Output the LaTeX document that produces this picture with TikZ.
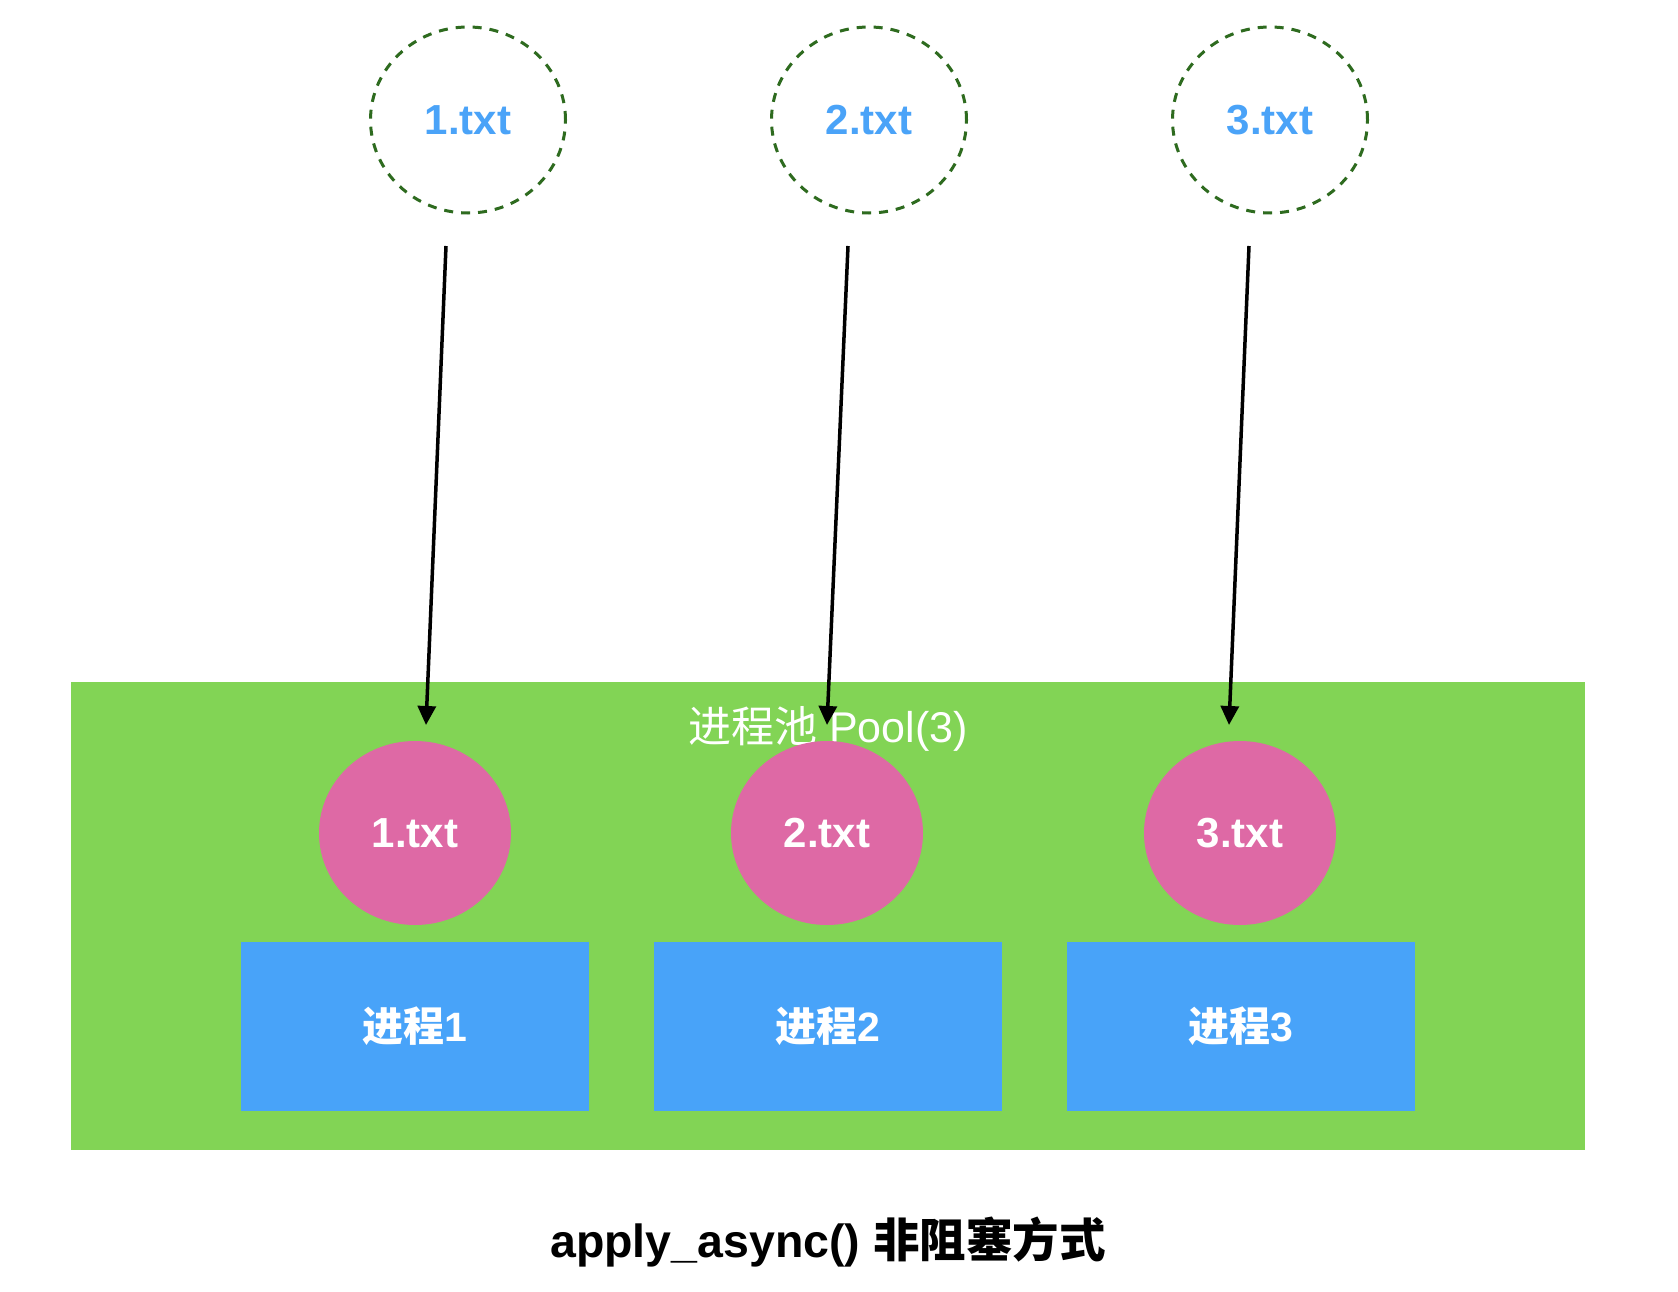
\documentclass[tikz,border=0pt]{standalone}
\usepackage{fontspec}
\setmainfont{Liberation Sans}
\newfontfamily\cjk{Noto Sans CJK SC}
\usetikzlibrary{shapes.geometric,arrows.meta}
\definecolor{poolgreen}{RGB}{130,212,85}
\definecolor{filepink}{RGB}{222,105,165}
\definecolor{procblue}{RGB}{72,163,249}
\definecolor{dashgreen}{RGB}{46,107,31}
\definecolor{labelblue}{RGB}{74,163,248}
\tikzset{
  srcfile/.style={ellipse, draw=dashgreen, line width=3pt, dash pattern=on 9pt off 8pt,
    minimum width=195pt, minimum height=186pt, inner sep=0pt, text=labelblue,
    font=\bfseries\fontsize{42}{50}\selectfont},
  taskfile/.style={ellipse, fill=filepink, minimum width=192pt, minimum height=184pt,
    inner sep=0pt, text=white, font=\bfseries\fontsize{42}{50}\selectfont},
  procbox/.style={rectangle, fill=procblue, minimum width=348pt, minimum height=169pt,
    inner sep=0pt, text=white, font=\bfseries\fontsize{41}{48}\selectfont},
  feed/.style={draw=black, line width=3.5pt, -{Triangle[length=19pt,width=18pt]}},
}
\begin{document}
\begin{tikzpicture}[x=1pt,y=-1pt]
\useasboundingbox (0,0) rectangle (1678,1292);
\fill[white] (0,0) rectangle (1678,1292);
% pool
\node[rectangle, fill=poolgreen, minimum width=1514pt, minimum height=468pt, inner sep=0pt, anchor=north west] (pool) at (71,682) {};
\node[text=white, font=\fontsize{43}{48}\selectfont, inner sep=0pt] (poollabel) at (828,729) {{\cjk 进程池} Pool(3)};
% source files
\node[srcfile] (s1) at (468,120) {1.txt};
\node[srcfile] (s2) at (869,120) {2.txt};
\node[srcfile] (s3) at (1270,120) {3.txt};
% task files
\node[taskfile] (t1) at (415,833) {1.txt};
\node[taskfile] (t2) at (827,833) {2.txt};
\node[taskfile] (t3) at (1240,833) {3.txt};
% processes
\node[procbox] (p1) at (415,1026) {{\cjk\bfseries 进程}1};
\node[procbox] (p2) at (828,1026) {{\cjk\bfseries 进程}2};
\node[procbox] (p3) at (1241,1026) {{\cjk\bfseries 进程}3};
% arrow ends
\coordinate (a1s) at (446,246);
\coordinate (a1e) at (426,725);
\coordinate (a2s) at (848,246);
\coordinate (a2e) at (827,725);
\coordinate (a3s) at (1249,246);
\coordinate (a3e) at (1229,725);
\draw[feed] (a1s) -- (a1e);
\draw[feed] (a2s) -- (a2e);
\draw[feed] (a3s) -- (a3e);
% title
\node[font=\bfseries\fontsize{46.5}{52}\selectfont, inner sep=0pt] (title) at (828,1242) {apply\_async() {\cjk\bfseries 非阻塞方式}};
\end{tikzpicture}
\end{document}
